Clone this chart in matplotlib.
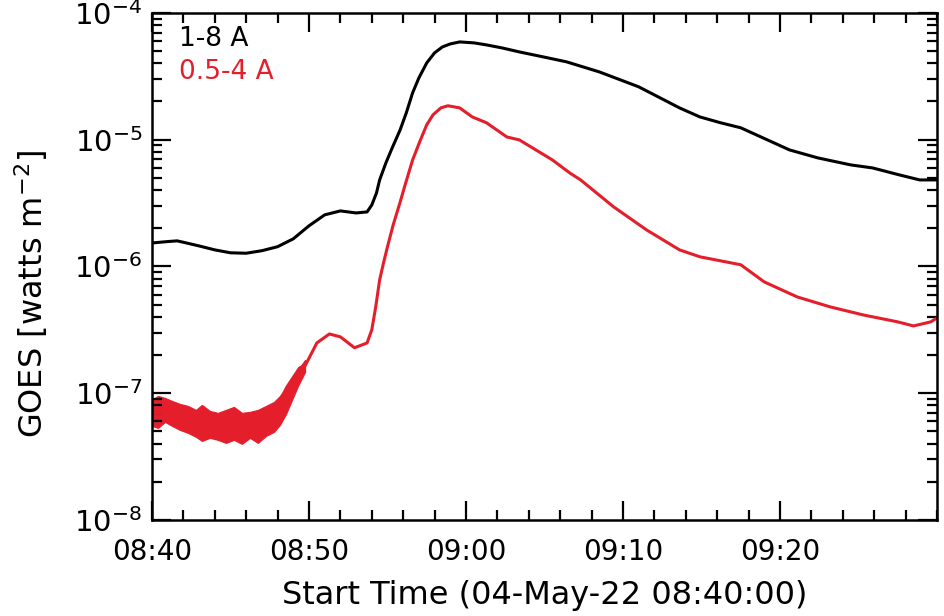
import matplotlib
matplotlib.use("Agg")
import matplotlib.pyplot as plt
from matplotlib.ticker import FixedLocator, LogLocator, NullFormatter

# ---- data (minutes after 08:40:00, flux in W m^-2) ----
t_long = [0, 1, 1.6, 2, 3, 4, 5, 6, 7, 8, 9, 10, 11, 12, 13, 13.7, 14.0, 14.3,
          14.5, 14.9, 15.3, 15.8, 16.2, 16.6, 17.0, 17.5, 18.0, 18.5, 19.0,
          19.6, 20.5, 21.3, 22.3, 23.4, 24.9, 26.4, 28.5, 31.0, 33.6, 34.9,
          36.2, 37.5, 39.2, 40.6, 42.4, 44.5, 45.9, 47.6, 48.9, 50.0]
flux_long = [1.53e-6, 1.57e-6, 1.59e-6, 1.55e-6, 1.45e-6, 1.35e-6, 1.28e-6,
             1.27e-6, 1.33e-6, 1.43e-6, 1.65e-6, 2.09e-6, 2.55e-6, 2.74e-6,
             2.64e-6, 2.69e-6, 3.05e-6, 3.80e-6, 4.81e-6, 6.56e-6, 8.61e-6,
             1.19e-5, 1.63e-5, 2.34e-5, 3.07e-5, 4.03e-5, 4.84e-5, 5.39e-5,
             5.69e-5, 5.90e-5, 5.80e-5, 5.59e-5, 5.29e-5, 4.92e-5, 4.50e-5,
             4.11e-5, 3.42e-5, 2.61e-5, 1.78e-5, 1.51e-5, 1.36e-5, 1.24e-5,
             9.95e-6, 8.30e-6, 7.18e-6, 6.32e-6, 5.98e-6, 5.27e-6, 4.81e-6,
             4.81e-6]

t_short = [0, 1.15, 3.06, 4.3, 5.6, 6.9, 8.0, 8.6, 9.4, 9.75, 10.5, 11.3,
           12.0, 12.9, 13.7, 14.0, 14.25, 14.5, 14.75, 15.0, 15.35, 15.8, 16.1,
           16.6, 17.1, 17.5, 17.9, 18.4, 18.85, 19.6, 20.4, 21.3, 22.6, 23.4,
           25.5, 26.6, 27.3, 29.4, 31.5, 33.6, 34.9, 37.5, 39.0, 41.1, 43.2,
           45.3, 47.5, 48.5, 49.6, 50.0]
flux_short = [6.98e-8, 7.0e-8, 5.82e-8, 5.32e-8, 5.42e-8, 6.5e-8, 8.07e-8,
              1.12e-7, 1.58e-7, 1.64e-7, 2.49e-7, 2.93e-7, 2.78e-7, 2.28e-7,
              2.49e-7, 3.16e-7, 4.79e-7, 7.82e-7, 1.07e-6, 1.43e-6, 2.10e-6,
              3.20e-6, 4.30e-6, 6.92e-6, 9.95e-6, 1.31e-5, 1.57e-5, 1.78e-5,
              1.85e-5, 1.78e-5, 1.51e-5, 1.36e-5, 1.05e-5, 9.95e-6, 6.92e-6,
              5.47e-6, 4.81e-6, 2.95e-6, 1.94e-6, 1.35e-6, 1.19e-6, 1.03e-6,
              7.54e-7, 5.74e-7, 4.79e-7, 4.14e-7, 3.65e-7, 3.39e-7, 3.65e-7,
              3.92e-7]

# noise envelope of the 0.5-4 A channel during the quiet pre-flare part
t_noise = [0, 0.38, 0.83, 1.27, 1.78, 2.29, 2.80, 3.18, 3.69, 4.20, 4.71,
           5.22, 5.73, 6.24, 6.75, 7.26, 7.77, 8.15, 8.54, 8.92, 9.30, 9.75]
noise_hi = [8.85e-8, 9.51e-8, 9.17e-8, 8.69e-8, 8.23e-8, 7.93e-8, 7.38e-8,
            8.08e-8, 7.24e-8, 6.99e-8, 7.38e-8, 7.79e-8, 6.99e-8, 7.12e-8,
            7.38e-8, 7.93e-8, 8.53e-8, 9.51e-8, 1.10e-7, 1.27e-7, 1.53e-7,
            1.83e-7]
noise_lo = [5.52e-8, 5.32e-8, 5.93e-8, 5.52e-8, 5.13e-8, 4.86e-8, 4.52e-8,
            4.20e-8, 4.44e-8, 4.28e-8, 4.05e-8, 4.28e-8, 3.98e-8, 4.44e-8,
            4.05e-8, 4.60e-8, 4.95e-8, 5.62e-8, 6.86e-8, 8.85e-8, 1.14e-7,
            1.47e-7]

xtick_pos = [0, 10, 20, 30, 40]
xtick_labels = ["08:40", "08:50", "09:00", "09:10", "09:20"]
ytick_pos = [1e-8, 1e-7, 1e-6, 1e-5, 1e-4]
ytick_labels = [r"$10^{-8}$", r"$10^{-7}$", r"$10^{-6}$", r"$10^{-5}$", r"$10^{-4}$"]
legend_labels = ["1-8 A", "0.5-4 A"]

RED = "#e41e2b"

fig = plt.figure(figsize=(9.44, 6.16), dpi=100)
ax = fig.add_axes([0.161, 0.156, 0.8316, 0.8231])

ax.fill_between(t_noise, noise_lo, noise_hi, color=RED, lw=0.8)
ax.plot(t_short, flux_short, color=RED, lw=2.2)
ax.plot(t_long, flux_long, color="black", lw=2.2)

ax.set_yscale("log")
ax.set_xlim(0, 50)
ax.set_ylim(1e-8, 1e-4)

ax.xaxis.set_major_locator(FixedLocator(xtick_pos))
ax.set_xticklabels(xtick_labels)
ax.xaxis.set_minor_locator(FixedLocator([m for m in range(0, 51, 2)]))
ax.yaxis.set_major_locator(FixedLocator(ytick_pos))
ax.set_yticklabels(ytick_labels)
ax.yaxis.set_minor_locator(LogLocator(base=10, subs=range(2, 10)))
ax.yaxis.set_minor_formatter(NullFormatter())

ax.tick_params(which="both", direction="in", top=True, right=True, width=1.6)
ax.tick_params(axis="x", which="major", labelsize=20, pad=13)
ax.tick_params(axis="y", which="major", labelsize=21, pad=7)
ax.tick_params(which="major", length=14)
ax.tick_params(which="minor", length=7)
for s in ax.spines.values():
    s.set_linewidth(1.8)

ax.set_xlabel("Start Time (04-May-22 08:40:00)", fontsize=23, labelpad=10)
ax.set_ylabel(r"GOES [watts m$^{-2}$]", fontsize=23)
ax.yaxis.set_label_coords(-0.13, 0.445)

ax.text(0.035, 0.975, legend_labels[0], transform=ax.transAxes, fontsize=19,
        color="black", va="top", ha="left")
ax.text(0.035, 0.91, legend_labels[1], transform=ax.transAxes, fontsize=19,
        color=RED, va="top", ha="left")

fig.savefig("out.png", dpi=100)
